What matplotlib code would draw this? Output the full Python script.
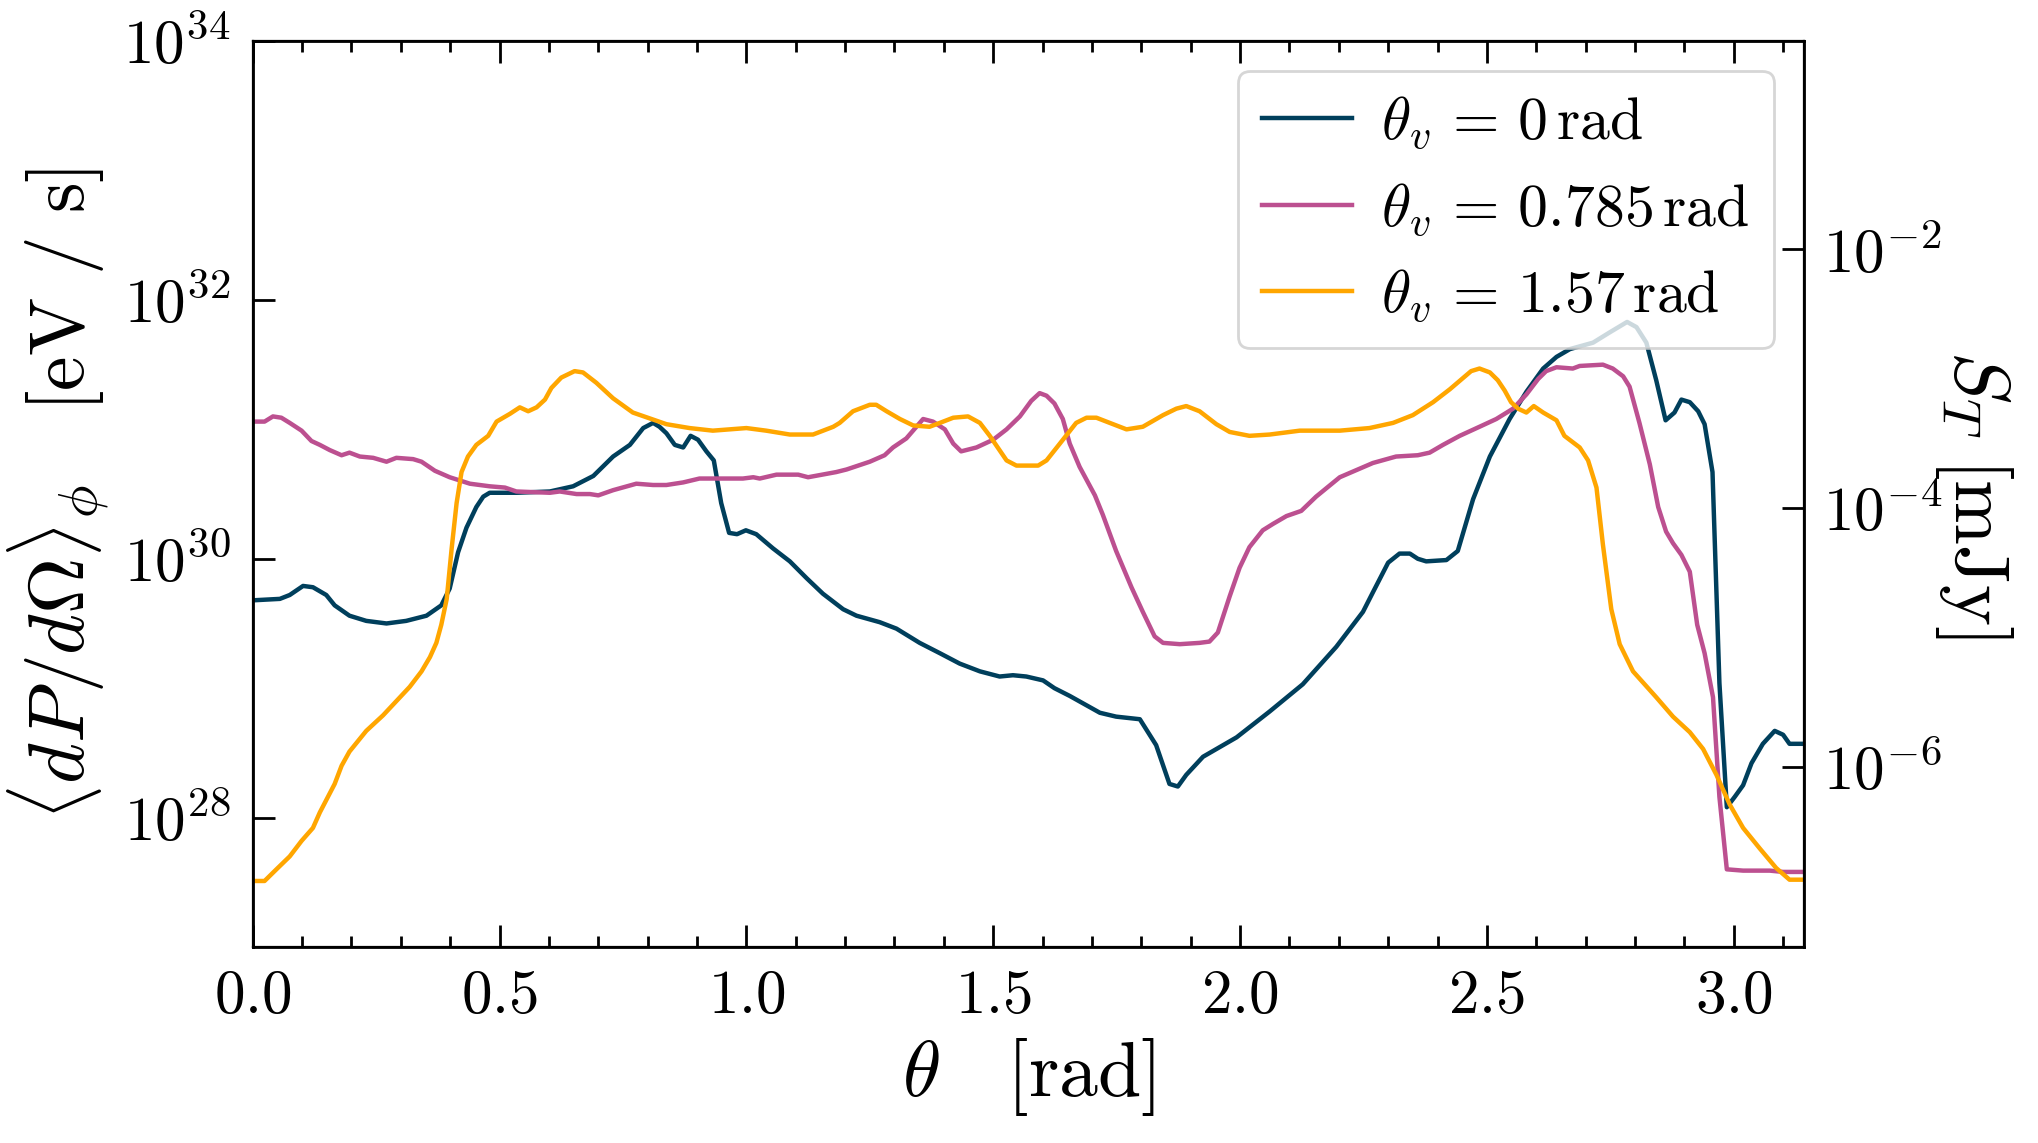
import numpy as np
import matplotlib
matplotlib.use("Agg")
import matplotlib.pyplot as plt
from matplotlib.ticker import MultipleLocator, NullLocator

plt.rcParams['font.family'] = 'serif'
plt.rcParams['font.serif'] = ['cmr10']
plt.rcParams['mathtext.fontset'] = 'cm'
plt.rcParams['axes.formatter.use_mathtext'] = True

# angle grid and log10 of <dP/dOmega>_phi
theta_0 = [0.006, 0.055, 0.075, 0.102, 0.122, 0.149, 0.166, 0.196, 0.230, 0.271,
           0.311, 0.352, 0.382, 0.399, 0.416, 0.433, 0.453, 0.467, 0.480, 0.534,
           0.602, 0.649, 0.690, 0.730, 0.764, 0.791, 0.811, 0.824, 0.838, 0.855,
           0.872, 0.887, 0.902, 0.919, 0.934, 0.949, 0.965, 0.981, 0.999, 1.020,
           1.054, 1.088, 1.122, 1.155, 1.196, 1.223, 1.270, 1.304, 1.351, 1.392,
           1.432, 1.473, 1.513, 1.540, 1.567, 1.601, 1.624, 1.655, 1.716, 1.749,
           1.797, 1.830, 1.857, 1.874, 1.891, 1.925, 1.993, 2.060, 2.127, 2.195,
           2.249, 2.269, 2.300, 2.323, 2.344, 2.360, 2.377, 2.418, 2.441, 2.472,
           2.506, 2.546, 2.580, 2.614, 2.641, 2.668, 2.715, 2.749, 2.784, 2.803,
           2.823, 2.843, 2.862, 2.880, 2.894, 2.911, 2.928, 2.941, 2.957, 2.971,
           2.986, 3.002, 3.019, 3.036, 3.059, 3.083, 3.100, 3.113, 3.1416]
logp_0 = [29.68, 29.69, 29.72, 29.79, 29.78, 29.72, 29.64, 29.56, 29.52, 29.50,
          29.52, 29.56, 29.64, 29.77, 30.05, 30.24, 30.40, 30.48, 30.51, 30.51,
          30.52, 30.56, 30.64, 30.79, 30.88, 31.01, 31.05, 31.02, 30.97, 30.88,
          30.86, 30.95, 30.92, 30.83, 30.76, 30.43, 30.20, 30.19, 30.22, 30.19,
          30.08, 29.98, 29.85, 29.73, 29.61, 29.56, 29.51, 29.46, 29.35, 29.27,
          29.19, 29.13, 29.09, 29.10, 29.09, 29.06, 29.00, 28.94, 28.81, 28.78,
          28.76, 28.56, 28.26, 28.24, 28.33, 28.47, 28.62, 28.82, 29.03, 29.32,
          29.59, 29.74, 29.97, 30.04, 30.04, 30.00, 29.98, 29.99, 30.06, 30.46,
          30.79, 31.08, 31.29, 31.47, 31.56, 31.62, 31.67, 31.75, 31.83, 31.79,
          31.67, 31.38, 31.07, 31.13, 31.23, 31.21, 31.14, 31.04, 30.67, 29.04,
          28.08, 28.16, 28.25, 28.42, 28.57, 28.67, 28.64, 28.57, 28.57]

theta_1 = [0.006, 0.024, 0.041, 0.058, 0.075, 0.099, 0.119, 0.136, 0.156, 0.180,
           0.196, 0.217, 0.244, 0.271, 0.291, 0.325, 0.342, 0.369, 0.399, 0.440,
           0.480, 0.511, 0.534, 0.602, 0.622, 0.656, 0.683, 0.700, 0.730, 0.777,
           0.811, 0.838, 0.872, 0.905, 0.953, 0.993, 1.014, 1.027, 1.061, 1.105,
           1.125, 1.182, 1.203, 1.250, 1.280, 1.297, 1.324, 1.358, 1.378, 1.402,
           1.419, 1.435, 1.466, 1.500, 1.527, 1.554, 1.577, 1.594, 1.608, 1.624,
           1.641, 1.655, 1.675, 1.706, 1.722, 1.749, 1.780, 1.803, 1.827, 1.844,
           1.878, 1.918, 1.938, 1.955, 1.979, 1.999, 2.019, 2.046, 2.067, 2.094,
           2.124, 2.154, 2.202, 2.269, 2.316, 2.360, 2.384, 2.411, 2.445, 2.485,
           2.519, 2.553, 2.580, 2.604, 2.620, 2.641, 2.674, 2.688, 2.735, 2.755,
           2.776, 2.789, 2.809, 2.830, 2.847, 2.863, 2.877, 2.894, 2.911, 2.926,
           2.941, 2.958, 2.971, 2.986, 3.019, 3.073, 3.100, 3.1416]
logp_1 = [31.06, 31.06, 31.10, 31.09, 31.05, 30.99, 30.91, 30.88, 30.84, 30.80,
          30.82, 30.79, 30.78, 30.75, 30.78, 30.77, 30.75, 30.68, 30.63, 30.58,
          30.56, 30.55, 30.52, 30.51, 30.52, 30.50, 30.50, 30.49, 30.53, 30.58,
          30.57, 30.57, 30.59, 30.62, 30.62, 30.62, 30.63, 30.62, 30.65, 30.65,
          30.63, 30.67, 30.69, 30.75, 30.80, 30.86, 30.93, 31.08, 31.06, 31.00,
          30.89, 30.83, 30.86, 30.92, 31.00, 31.10, 31.22, 31.28, 31.26, 31.20,
          31.08, 30.89, 30.71, 30.49, 30.34, 30.06, 29.78, 29.59, 29.40, 29.35,
          29.34, 29.35, 29.36, 29.43, 29.71, 29.93, 30.09, 30.22, 30.27, 30.33,
          30.37, 30.48, 30.63, 30.74, 30.79, 30.80, 30.82, 30.88, 30.95, 31.02,
          31.08, 31.16, 31.27, 31.39, 31.45, 31.48, 31.47, 31.49, 31.50, 31.47,
          31.41, 31.33, 31.05, 30.73, 30.40, 30.21, 30.12, 30.03, 29.90, 29.49,
          29.27, 28.93, 28.16, 27.60, 27.59, 27.59, 27.58, 27.58]

theta_2 = [0.006, 0.024, 0.048, 0.075, 0.099, 0.122, 0.136, 0.166, 0.180, 0.196,
           0.230, 0.264, 0.291, 0.318, 0.342, 0.359, 0.372, 0.382, 0.393, 0.403,
           0.413, 0.423, 0.436, 0.453, 0.477, 0.494, 0.521, 0.541, 0.558, 0.575,
           0.592, 0.605, 0.625, 0.652, 0.669, 0.696, 0.730, 0.770, 0.838, 0.885,
           0.932, 1.000, 1.040, 1.088, 1.135, 1.176, 1.189, 1.216, 1.250, 1.263,
           1.284, 1.311, 1.338, 1.371, 1.392, 1.419, 1.449, 1.473, 1.493, 1.527,
           1.547, 1.591, 1.608, 1.635, 1.668, 1.689, 1.709, 1.736, 1.770, 1.803,
           1.844, 1.871, 1.891, 1.918, 1.952, 1.979, 2.019, 2.060, 2.121, 2.202,
           2.262, 2.310, 2.350, 2.391, 2.425, 2.468, 2.485, 2.506, 2.522, 2.536,
           2.549, 2.563, 2.580, 2.595, 2.614, 2.641, 2.657, 2.688, 2.705, 2.722,
           2.735, 2.752, 2.769, 2.796, 2.843, 2.877, 2.911, 2.938, 2.965, 2.992,
           3.019, 3.053, 3.086, 3.113, 3.1416]
logp_2 = [27.51, 27.51, 27.60, 27.70, 27.82, 27.92, 28.04, 28.26, 28.40, 28.51,
          28.67, 28.79, 28.90, 29.01, 29.13, 29.24, 29.35, 29.49, 29.69, 30.08,
          30.43, 30.67, 30.79, 30.88, 30.95, 31.06, 31.12, 31.17, 31.14, 31.17,
          31.23, 31.32, 31.40, 31.45, 31.44, 31.36, 31.24, 31.13, 31.04, 31.01,
          30.99, 31.01, 30.99, 30.96, 30.96, 31.02, 31.05, 31.14, 31.19, 31.19,
          31.14, 31.08, 31.03, 31.02, 31.05, 31.09, 31.10, 31.05, 30.95, 30.76,
          30.72, 30.72, 30.76, 30.89, 31.05, 31.09, 31.09, 31.05, 31.00, 31.02,
          31.11, 31.16, 31.18, 31.14, 31.04, 30.98, 30.95, 30.96, 30.99, 30.99,
          31.01, 31.05, 31.11, 31.21, 31.31, 31.45, 31.47, 31.44, 31.38, 31.30,
          31.21, 31.16, 31.13, 31.18, 31.13, 31.07, 30.95, 30.86, 30.76, 30.55,
          30.11, 29.61, 29.34, 29.13, 28.93, 28.78, 28.66, 28.53, 28.33, 28.10,
          27.92, 27.76, 27.61, 27.52, 27.52]

labels = [r'$\theta_v \,=\, 0\,\mathrm{rad}$',
          r'$\theta_v \,=\, 0.785\,\mathrm{rad}$',
          r'$\theta_v \,=\, 1.57\,\mathrm{rad}$']
colors = ['#003f5c', '#bc5090', '#ffa600']

# right axis is the same curve in flux units, shifted by a constant
flux_shift = 10**-34.39

fig = plt.figure(figsize=(10.19, 5.715), dpi=200)
ax = fig.add_axes([0.124, 0.1715, 0.761, 0.7925])

for th, lp, lab, c in zip([theta_0, theta_1, theta_2], [logp_0, logp_1, logp_2], labels, colors):
    ax.plot(th, 10**np.array(lp), color=c, lw=1.6, label=lab)

ax.set_yscale('log')
ax.set_xlim(0, np.pi)
ax.set_ylim(1e27, 1e34)
ax.set_yticks([1e28, 1e30, 1e32, 1e34])
ax.yaxis.set_minor_locator(NullLocator())
ax.xaxis.set_major_locator(MultipleLocator(0.5))
ax.xaxis.set_minor_locator(MultipleLocator(0.1))
ax.tick_params(which='both', direction='in', top=True, right=False, labelsize=22, width=1.0)
ax.tick_params(which='major', length=8, pad=8)
ax.tick_params(which='minor', length=4)
for s in ax.spines.values():
    s.set_linewidth(1.0)

ax.set_xlabel(r'$\theta \quad [\mathrm{rad}]$', fontsize=28)
ax.set_ylabel(r'$\langle dP/d\Omega\rangle_\phi \quad [\mathrm{eV\ /\ s}]$', fontsize=28)

ax2 = ax.twinx()
ax2.set_yscale('log')
ax2.set_ylim(1e27 * flux_shift, 1e34 * flux_shift)
ax2.set_yticks([1e-6, 1e-4, 1e-2])
ax2.yaxis.set_minor_locator(NullLocator())
ax2.tick_params(which='major', direction='in', length=8, width=1.0, labelsize=22, pad=7)
ax2.set_ylabel(r'$S_T\ [\mathrm{mJy}]$', fontsize=28, rotation=270, labelpad=26)

ax.legend(loc='upper right', fontsize=21.5, handlelength=1.5, handletextpad=0.5)

fig.savefig('out.png', dpi=200)
